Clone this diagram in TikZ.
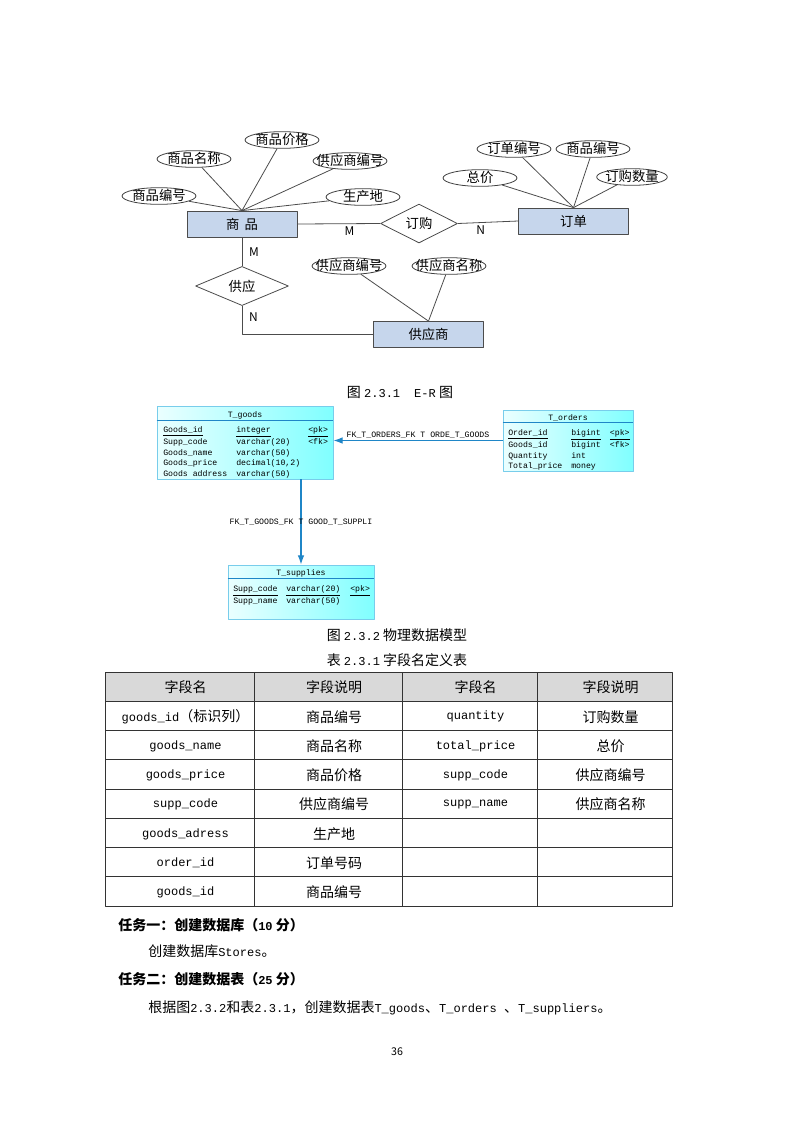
\documentclass[tikz,border=0pt]{standalone}
\usepackage{fontspec}
\setmainfont{Noto Sans CJK SC}
\newfontfamily\cjk{Noto Sans CJK SC}
\newfontfamily\lat[Scale=0.86]{Liberation Mono}
\usetikzlibrary{arrows.meta,shapes.geometric}
\definecolor{erfill}{RGB}{198,214,236}
\definecolor{fkblue}{RGB}{31,134,199}
\definecolor{pdmedge}{RGB}{120,205,235}
\definecolor{pdmcyan}{RGB}{128,255,255}

\begin{document}
\begin{tikzpicture}[x=0.75pt, y=-0.75pt, line join=round,
  erline/.style={draw=black!70, line width=0.6pt},
  ent/.style={draw=black!70, fill=erfill, line width=0.6pt, minimum width=82.5pt, minimum height=19.5pt, font=\fontsize{10}{12}\selectfont},
  rel/.style={diamond, draw=black!70, fill=white, line width=0.6pt, inner sep=0pt, minimum height=25.5pt, font=\fontsize{10}{12}\selectfont},
  attr/.style={ellipse, draw=black!75, fill=white, line width=0.6pt, inner sep=0pt, minimum width=55.5pt, minimum height=12.5pt,
    text height=7.5pt, text depth=1pt, font=\fontsize{10}{12}\selectfont,
    execute at begin node={\hbox to 0pt\bgroup\hss}, execute at end node={\hss\egroup}},
  card/.style={font=\fontsize{9}{10}\selectfont, inner sep=2pt},
  pdm/.style={draw=pdmedge, left color=cyan!8, right color=pdmcyan, line width=0.6pt, inner sep=0pt},
  pdmsep/.style={draw=fkblue, line width=0.8pt},
  pdmtext/.style={font=\lat\fontsize{7.15}{8}\selectfont, inner sep=0pt},
  fk/.style={draw=fkblue, line width=0.9pt, -{Latex[length=7pt,width=5pt]}},
  captext/.style={font=\fontsize{10.5}{12}\selectfont},
  cell/.style={font=\fontsize{10.5}{12}\selectfont, xshift=4.5pt},
  latcell/.style={font=\lat\fontsize{10.5}{12}\selectfont, xshift=4.5pt},
  body/.style={anchor=west, inner sep=0pt, font=\fontsize{10.5}{12}\selectfont}]
  \useasboundingbox (0,0) rectangle (793,1122);

  % E-R diagram
  \node[ent] (goods) at (242,224) {商\hspace{4pt}品};
  \node[ent] (orders) at (573.5,221) {订单};
  \node[ent, minimum width=83pt] (supp) at (428.5,334.5) {供应商};
  \node[rel, minimum width=57.75pt] (buy) at (419,223.5) {订购};
  \node[rel, minimum width=69.75pt] (supply) at (242,286) {供应};

  \node[attr] (gname) at (194,159) {商品名称};
  \node[attr] (gprice) at (282,140) {商品价格};
  \node[attr] (gsupp) at (350,161) {供应商编号};
  \node[attr] (gid) at (159,196) {商品编号};
  \node[attr] (gaddr) at (363,197) {生产地};
  \node[attr] (oid) at (514,149) {订单编号};
  \node[attr] (ogid) at (593,149) {商品编号};
  \node[attr] (ototal) at (480,178) {总价};
  \node[attr, minimum width=53pt] (oqty) at (632,177) {订购数量};
  \node[attr] (scode) at (349,266) {供应商编号};
  \node[attr] (sname) at (449,266) {供应商名称};

  \foreach \a in {gname,gprice,gsupp,gid,gaddr} \draw[erline] (\a) -- (goods.north);
  \foreach \a in {oid,ogid,ototal,oqty} \draw[erline] (\a) -- (orders.north);
  \foreach \a in {scode,sname} \draw[erline] (\a) -- (supp.north);

  \draw[erline] (goods.east) -- node[card, pos=0.63, below] (m1) {M} (buy.west);
  \draw[erline] (buy.east) -- node[card, pos=0.38, below] (n1) {N} (orders.west);
  \draw[erline] (goods.south) -- node[card, right=3pt] (m2) {M} (supply.north);
  \draw[erline] (supply.south) |- node[card, pos=0.2, right=3pt] (n2) {N} (supp.west);

  \node[captext] (cap1) at (400,392) {图 {\lat 2.3.1}\quad{\lat E-R} 图};

  % physical data model
  \node[pdm, minimum width=132pt, minimum height=54.75pt] (tgoods) at (245,442.5) {};
  \node[pdmtext] (tgoodsh) at (245,415) {T\_goods};
  \draw[pdmsep] ([yshift=-11.5pt]tgoods.north west) -- ([yshift=-11.5pt]tgoods.north east);
  \node[pdmtext, anchor=north west] (tgoodsb) at (163,425) {\begin{tabular}{@{}p{54.75pt}@{}p{54pt}@{}l@{}}
    \underline{Goods\_id} & \underline{integer} & \underline{<pk>}\\
    Supp\_code & varchar(20) & <fk>\\
    Goods\_name & varchar(50) & \\
    Goods\_price & decimal(10,2) & \\
    Goods address & varchar(50) &
  \end{tabular}};

  \node[pdm, minimum width=97.5pt, minimum height=45.75pt] (torders) at (568,440.5) {};
  \node[pdmtext] (tordersh) at (568,418) {T\_orders};
  \draw[pdmsep] ([yshift=-10pt]torders.north west) -- ([yshift=-10pt]torders.north east);
  \node[pdmtext, anchor=north west] (tordersb) at (508,428) {\begin{tabular}{@{}p{47.25pt}@{}p{29pt}@{}l@{}}
    \underline{Order\_id} & \underline{bigint} & \underline{<pk>}\\
    Goods\_id & bigint & <fk>\\
    Quantity & int & \\
    Total\_price & money &
  \end{tabular}};

  \node[pdm, minimum width=109.5pt, minimum height=40.5pt] (tsupp) at (301,592) {};
  \node[pdmtext] (tsupph) at (301,573.5) {T\_supplies};
  \draw[pdmsep] ([yshift=-10.5pt]tsupp.north west) -- ([yshift=-10.5pt]tsupp.north east);
  \node[pdmtext, anchor=north west] (tsuppb) at (233,584) {\begin{tabular}{@{}p{39.75pt}@{}p{48pt}@{}l@{}}
    \underline{Supp\_code} & \underline{varchar(20)} & \underline{<pk>}\\
    Supp\_name & varchar(50) &
  \end{tabular}};

  \draw[fk] (torders.west) -- node[pdmtext, above=1.5pt] (fk1) {FK\_T\_ORDERS\_FK T ORDE\_T\_GOODS} (tgoods.east |- torders.west);
  \draw[fk] (tsupp.north |- tgoods.south) -- node[pdmtext, midway] (fk2) {FK\_T\_GOODS\_FK T GOOD\_T\_SUPPLI} (tsupp.north);

  \node[captext] (cap2) at (397,635) {图 {\lat 2.3.2} 物理数据模型};
  \node[captext] (cap3) at (397,660) {表 {\lat 2.3.1} 字段名定义表};

  % field table
  \fill[gray!30] (105,672) rectangle (672,701.25);
  \draw[black!80, line width=0.6pt] (105,672) rectangle (672,906);
  \foreach \x in {254,402,537} \draw[black!80, line width=0.6pt] (\x,672) -- (\x,906);
  \foreach \i in {1,...,7} \draw[black!80, line width=0.6pt] (105,{672+29.25*\i}) -- (672,{672+29.25*\i});
  \foreach \a/\b [count=\n from 0] in {{\cjk 字段名}/字段说明, goods\_id{\cjk（标识列）}/商品编号, goods\_name/商品名称,
      goods\_price/商品价格, supp\_code/供应商编号, goods\_adress/生产地, order\_id/订单号码, goods\_id/商品编号} {
    \node[latcell] (r\n c1) at (179.5,{673+29.25*(\n+0.5)}) {\a};
    \node[cell] (r\n c2) at (328,{673+29.25*(\n+0.5)}) {\b};
  }
  \foreach \a/\b [count=\n from 0] in {{\cjk 字段名}/字段说明, quantity/订购数量, total\_price/总价,
      supp\_code/供应商编号, supp\_name/供应商名称} {
    \node[latcell] (r\n c3) at (469.5,{673+29.25*(\n+0.5)}) {\a};
    \node[cell] (r\n c4) at (604.5,{673+29.25*(\n+0.5)}) {\b};
  }

  % tasks
  \node[body, font=\fontsize{10.5}{12}\selectfont\bfseries] (task1) at (118,925) {任务一：创建数据库（{\lat\bfseries 10} 分）};
  \node[body] (task1t) at (148,951) {创建数据库{\lat Stores}。};
  \node[body, font=\fontsize{10.5}{12}\selectfont\bfseries] (task2) at (118,979) {任务二：创建数据表（{\lat\bfseries 25} 分）};
  \node[body] (task2t) at (148,1008) {根据图{\lat 2.3.2}和表{\lat 2.3.1}，创建数据表{\lat T\_goods}、{\lat T\_orders }、{\lat T\_suppliers}。};
  \node[font=\fontsize{8}{9}\selectfont] (pageno) at (397,1052) {36};
\end{tikzpicture}
\end{document}
